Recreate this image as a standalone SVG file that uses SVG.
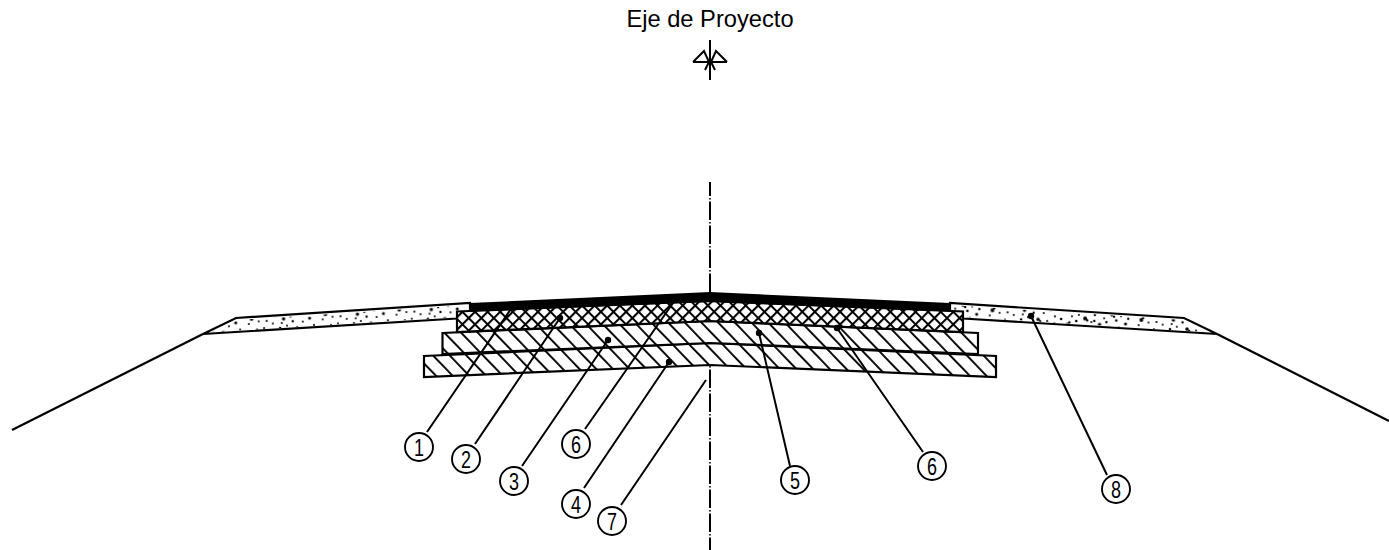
<svg xmlns="http://www.w3.org/2000/svg" width="1389" height="550" viewBox="0 0 1389 550">
<style>
.o{stroke:#000;stroke-width:2.2;stroke-linejoin:miter}
.l{fill:none;stroke:#000;stroke-width:2}
.c{fill:#fff;stroke:#000;stroke-width:1.9}
.d{fill:#000}
.n{font-family:"Liberation Sans",sans-serif;font-size:24px;text-anchor:middle;fill:#000}
.t{font-family:"Liberation Sans",Arial,sans-serif;font-size:23.7px;text-anchor:middle;fill:#000}
</style>
<defs>
<pattern id="hatch" width="12" height="12" patternUnits="userSpaceOnUse" patternTransform="translate(5 0) rotate(-44)">
<rect width="12" height="12" fill="#fff"/><line x1="0" y1="0" x2="0" y2="12" stroke="#000" stroke-width="3.800"/>
</pattern>
<pattern id="cross" width="8.9" height="8.9" patternUnits="userSpaceOnUse" patternTransform="translate(3 2) rotate(45)">
<rect width="8.9" height="8.9" fill="#fff"/><path d="M0 0V8.9M0 0H8.9" stroke="#000" stroke-width="4.200"/>
</pattern>
<pattern id="stipple" width="74" height="19" patternUnits="userSpaceOnUse" patternTransform="rotate(-3.6)">
<g fill="#000"><circle cx="3" cy="5" r="1.300"/><circle cx="9" cy="11" r="1.900"/><circle cx="11" cy="9" r="1.300"/><circle cx="14" cy="3" r="1"/><circle cx="18" cy="8" r="1.300"/><circle cx="24" cy="14" r="1.100"/><circle cx="27" cy="6" r="2"/><circle cx="29" cy="8" r="1.200"/><circle cx="33" cy="10" r="1"/><circle cx="37" cy="3" r="1.300"/><circle cx="41" cy="13" r="1.700"/><circle cx="46" cy="7" r="1"/><circle cx="50" cy="16" r="1.200"/><circle cx="54" cy="4" r="1.800"/><circle cx="56" cy="6" r="1.200"/><circle cx="58" cy="10" r="1.300"/><circle cx="63" cy="6" r="1"/><circle cx="67" cy="14" r="1.500"/><circle cx="71" cy="2" r="1.100"/><circle cx="6" cy="16" r="1"/><circle cx="30" cy="17" r="1"/><circle cx="21" cy="2" r="1"/><circle cx="44" cy="1" r="1"/><circle cx="60" cy="17" r="1"/><circle cx="36" cy="9" r="1.200"/><circle cx="16" cy="14" r="1"/><circle cx="48" cy="11" r="1.200"/><circle cx="70" cy="9" r="1.200"/><circle cx="39" cy="17" r="1"/></g>
</pattern>
</defs>
<g id="axis">
<line class="l" x1="710" y1="182" x2="710" y2="550" stroke-dasharray="18.5 2.200 1.300 2" stroke-dashoffset="4.500"/>
</g>
<g id="terrain">
<line class="o" x1="12" y1="430" x2="203" y2="334"/>
<line class="o" x1="1217" y1="334" x2="1389" y2="421"/>
</g>
<g id="shoulders">
<path class="o" fill="#fff" d="M203 334L236 318L470 303V311.500L457 318.500ZM1217 334L1184 318L950 303V311.500L963 318.500Z"/>
<path fill="url(#stipple)" d="M210 332.500L237 320L470 305V311L457 317ZM1210 332.500L1183 320L950 305V311L963 317Z"/>
</g>
<g id="layers">
<path class="o" fill="url(#hatch)" d="M424 356L710 343L996 356V377L710 365L424 377Z"/>
<path class="o" fill="url(#hatch)" d="M442.500 333L710 321L978 333V354L710 343L442.500 354Z"/>
<path class="o" fill="url(#cross)" d="M457 311.500L710 301L963 311.500V332L710 321L457 332Z"/>
<path d="M470 303L710 292L950 303V311.500L710 302L470 311.500Z" fill="#000"/>
</g>
<g id="connectors">
<path class="l" d="M427 432L513 306M475 444L560 318M522 466L608 340M585 429L673 303M584 488L669 362M621 505L706 380M790 466L759 333M923 452L837 328M1107 475L1031 316"/>
<circle class="d" cx="560" cy="318" r="3.200"/><circle class="d" cx="608" cy="340" r="3.200"/><circle class="d" cx="669" cy="362" r="3.200"/><circle class="d" cx="759" cy="333" r="3.200"/><circle class="d" cx="837" cy="328" r="3.200"/><circle class="d" cx="1031" cy="316" r="3.200"/>
</g>
<g id="north-mark">
<path class="l" d="M710 40V80M693 62L704 51L709 62L705 70M727 62L716 51L711 62L715 70M693 62H709M727 62H711"/>
</g>
<text class="t" x="710" y="27">Eje de Proyecto</text>
<g id="n1"><circle class="c" cx="419" cy="447" r="14"/><text class="n" x="419" y="455.500" textLength="10" lengthAdjust="spacingAndGlyphs">1</text></g>
<g id="n2"><circle class="c" cx="466" cy="459" r="14"/><text class="n" x="466" y="467.500" textLength="10" lengthAdjust="spacingAndGlyphs">2</text></g>
<g id="n3"><circle class="c" cx="514" cy="481" r="14"/><text class="n" x="514" y="489.500" textLength="10" lengthAdjust="spacingAndGlyphs">3</text></g>
<g id="n6a"><circle class="c" cx="576" cy="444" r="14"/><text class="n" x="576" y="452.500" textLength="10" lengthAdjust="spacingAndGlyphs">6</text></g>
<g id="n4"><circle class="c" cx="576" cy="504" r="14"/><text class="n" x="576" y="512.500" textLength="10" lengthAdjust="spacingAndGlyphs">4</text></g>
<g id="n7"><circle class="c" cx="612" cy="521" r="14"/><text class="n" x="612" y="529.500" textLength="10" lengthAdjust="spacingAndGlyphs">7</text></g>
<g id="n5"><circle class="c" cx="795" cy="480" r="14"/><text class="n" x="795" y="488.500" textLength="10" lengthAdjust="spacingAndGlyphs">5</text></g>
<g id="n6b"><circle class="c" cx="932" cy="466" r="14"/><text class="n" x="932" y="474.500" textLength="10" lengthAdjust="spacingAndGlyphs">6</text></g>
<g id="n8"><circle class="c" cx="1116" cy="489" r="14"/><text class="n" x="1116" y="497.500" textLength="10" lengthAdjust="spacingAndGlyphs">8</text></g>
</svg>
